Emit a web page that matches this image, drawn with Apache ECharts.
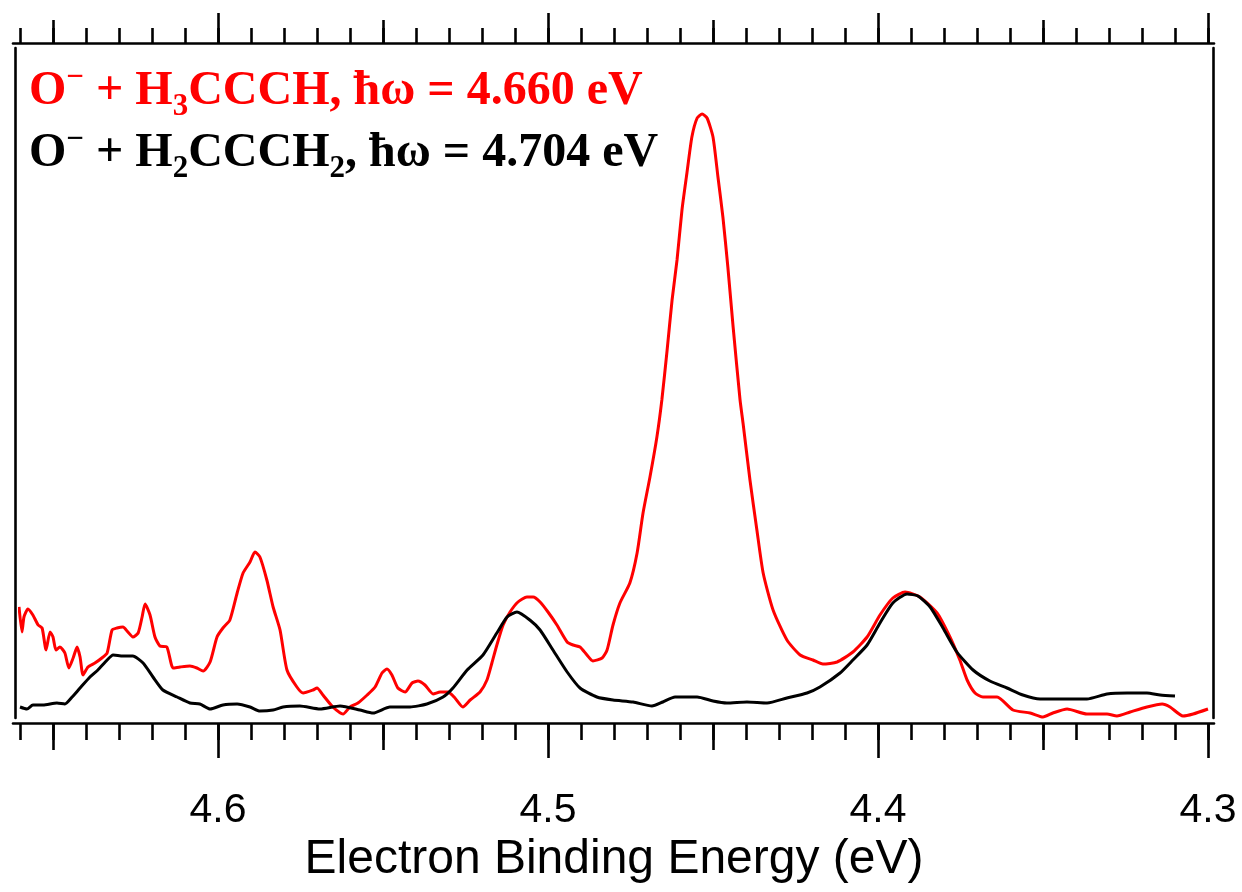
<!DOCTYPE html>
<html>
<head>
<meta charset="utf-8">
<script src="https://cdn.jsdelivr.net/npm/echarts@6/dist/echarts.min.js"></script>
<style>
html,body{margin:0;padding:0;background:#fff;}
#chart{width:1242px;height:892px;}
</style>
</head>
<body>
<div id="chart"></div>
<script>
// O- + H3CCCH, hw = 4.660 eV (red)
const redEnergy = [4.6603,4.6594,4.6588,4.6576,4.6561,4.6545,4.6533,4.6521,4.6509,4.6500,
4.6491,4.6479,4.6464,4.6452,4.6439,4.6427,4.6418,4.6409,4.6394,4.6373,
4.6352,4.6336,4.6321,4.6306,4.6288,4.6273,4.6258,4.6242,4.6230,4.6221,
4.6206,4.6191,4.6176,4.6155,4.6136,4.6115,4.6085,4.6064,4.6045,4.6024,
4.6003,4.5985,4.5964,4.5942,4.5924,4.5903,4.5888,4.5873,4.5852,4.5833,
4.5812,4.5791,4.5761,4.5742,4.5712,4.5700,4.5682,4.5652,4.5621,4.5600,
4.5576,4.5548,4.5524,4.5503,4.5488,4.5473,4.5455,4.5433,4.5412,4.5394,
4.5373,4.5348,4.5327,4.5303,4.5282,4.5258,4.5236,4.5206,4.5185,4.5170,
4.5155,4.5136,4.5115,4.5091,4.5064,4.5045,4.5024,4.5000,4.4973,4.4942,
4.4924,4.4903,4.4882,4.4864,4.4836,4.4821,4.4803,4.4782,4.4752,4.4730,
4.4712,4.4691,4.4670,4.4655,4.4639,4.4624,4.4609,4.4594,4.4579,4.4564,
4.4548,4.4533,4.4518,4.4500,4.4485,4.4470,4.4455,4.4439,4.4418,4.4409,
4.4388,4.4367,4.4348,4.4318,4.4276,4.4236,4.4197,4.4167,4.4124,4.4076,
4.4033,4.3994,4.3955,4.3918,4.3873,4.3821,4.3782,4.3752,4.3730,4.3706,
4.3682,4.3639,4.3591,4.3539,4.3500,4.3470,4.3427,4.3367,4.3306,4.3276,
4.3236,4.3185,4.3139,4.3115,4.3076,4.3045,4.3000];
const redIntensity = [116,91,106,114,108,98,95,73,91,86,
73,76,70,55,65,76,66,48,56,60,
65,70,93,95,96,91,86,90,106,119,
108,86,77,76,55,56,57,55,52,61,
86,95,103,130,150,161,171,166,143,116,
93,53,36,30,33,35,28,16,9,16,
20,28,36,50,54,48,35,31,40,42,
38,29,31,31,25,16,23,31,43,60,
78,98,111,121,126,126,121,111,98,81,
78,76,68,62,65,73,98,120,140,170,
210,246,286,323,373,423,463,513,550,586,
605,609,605,586,546,506,456,396,323,300,
243,193,150,113,83,68,63,59,61,71,
86,108,125,131,126,110,86,63,43,30,
26,26,13,10,6,10,14,9,9,7,
11,16,19,16,7,9,14];

// O- + H2CCCH2, hw = 4.704 eV (black)
const blackEnergy = [4.6600,4.6579,4.6561,4.6530,4.6488,4.6464,4.6442,4.6418,4.6388,4.6364,
4.6336,4.6318,4.6288,4.6258,4.6227,4.6197,4.6167,4.6124,4.6085,4.6055,
4.6024,4.5985,4.5942,4.5903,4.5873,4.5833,4.5803,4.5752,4.5691,4.5630,
4.5570,4.5530,4.5479,4.5418,4.5367,4.5318,4.5288,4.5245,4.5197,4.5155,
4.5124,4.5094,4.5055,4.5024,4.4985,4.4942,4.4903,4.4852,4.4803,4.4742,
4.4685,4.4652,4.4615,4.4548,4.4500,4.4458,4.4397,4.4336,4.4276,4.4215,
4.4176,4.4115,4.4076,4.4033,4.3994,4.3955,4.3912,4.3879,4.3842,4.3803,
4.3761,4.3712,4.3661,4.3609,4.3561,4.3509,4.3427,4.3367,4.3306,4.3245,
4.3185,4.3145,4.3100];
const blackIntensity = [16,14,18,18,20,19,26,35,46,53,
63,68,67,67,60,46,33,26,20,19,
14,18,19,16,12,13,16,17,14,17,
13,10,16,16,19,26,35,53,68,90,
106,111,103,93,73,51,35,26,23,21,
17,21,26,26,22,20,21,20,25,30,
36,50,63,78,100,120,129,127,116,95,
71,53,42,35,28,24,24,24,29,30,
30,28,27];

// axis ticks
const majorTicks = [4.3, 4.4, 4.5, 4.6];
const majorTickLabels = ['4.3', '4.4', '4.5', '4.6'];
const midTicks = [4.35, 4.45, 4.55, 4.65];
const minorTicks = [4.30,4.31,4.32,4.33,4.34,4.35,4.36,4.37,4.38,4.39,
4.40,4.41,4.42,4.43,4.44,4.45,4.46,4.47,4.48,4.49,
4.50,4.51,4.52,4.53,4.54,4.55,4.56,4.57,4.58,4.59,
4.60,4.61,4.62,4.63,4.64,4.65,4.66];

const xTitle = 'Electron Binding Energy (eV)';

const chart = echarts.init(document.getElementById('chart'), null, {renderer: 'canvas'});

const X_MIN = 4.3, X_MAX = 4.66;
const LW = 2.6;

function tickAxis(position, values, len, withLabel) {
  const ax = {
    type: 'value', gridIndex: 0, position: position,
    min: X_MIN, max: X_MAX, inverse: true,
    axisLine: {show: false},
    splitLine: {show: false},
    axisTick: {show: true, inside: false, length: len, customValues: values,
      lineStyle: {color: '#000', width: LW}},
    axisLabel: {show: false}
  };
  if (withLabel) {
    ax.axisLabel = {
      show: true, customValues: majorTicks,
      formatter: function (v) {
        for (let i = 0; i < majorTicks.length; i++) {
          if (Math.abs(v - majorTicks[i]) < 1e-6) return majorTickLabels[i];
        }
        return '';
      },
      color: '#000', fontSize: 41, fontFamily: 'Liberation Sans, Arial, sans-serif',
      margin: 67
    };
    ax.name = xTitle;
    ax.nameLocation = 'middle';
    ax.nameGap = 113;
    ax.nameTextStyle = {color: '#000', fontSize: 48, fontFamily: 'Liberation Sans, Arial, sans-serif'};
  }
  return ax;
}

const serifBold = {fontFamily: 'Liberation Serif, Times New Roman, serif', fontWeight: 'bold'};
function richFor(color) {
  return {
    a: Object.assign({fontSize: 48, color: color, lineHeight: 60}, serifBold),
    sub: Object.assign({fontSize: 31, color: color, lineHeight: 26, verticalAlign: 'bottom'}, serifBold),
    sup: Object.assign({fontSize: 31, color: color, lineHeight: 26, verticalAlign: 'top'}, serifBold)
  };
}

const option = {
  backgroundColor: '#fff',
  animation: false,
  title: [
    {text: '{a|O}{sup|\u2212}{a| + H}{sub|3}{a|CCCH, \u0127\u03c9 = 4.660 eV}', left: 29, top: 62,
     padding: 0, textStyle: {rich: richFor('#ff0000')}},
    {text: '{a|O}{sup|\u2212}{a| + H}{sub|2}{a|CCCH}{sub|2}{a|, \u0127\u03c9 = 4.704 eV}', left: 29, top: 124,
     padding: 0, textStyle: {rich: richFor('#000000')}}
  ],
  grid: [
    {left: 20, right: 34, top: 43, bottom: 169},   // data + ticks
    {left: 13, right: 28, top: 43, bottom: 169},   // horizontal frame lines
    {left: 15, right: 29, top: 48, bottom: 174}    // vertical frame lines
  ],
  xAxis: [
    tickAxis('bottom', majorTicks, 35, true),
    tickAxis('bottom', midTicks, 27, false),
    tickAxis('bottom', minorTicks, 17, false),
    tickAxis('top', majorTicks, 30, false),
    tickAxis('top', midTicks, 23, false),
    tickAxis('top', minorTicks, 15, false),
    {type: 'value', gridIndex: 1, position: 'bottom', min: 0, max: 1,
     axisLine: {show: true, lineStyle: {color: '#000', width: LW}}, axisTick: {show: false},
     axisLabel: {show: false}, splitLine: {show: false}},
    {type: 'value', gridIndex: 1, position: 'top', min: 0, max: 1,
     axisLine: {show: true, lineStyle: {color: '#000', width: LW}}, axisTick: {show: false},
     axisLabel: {show: false}, splitLine: {show: false}},
    {type: 'value', gridIndex: 2, show: false, min: 0, max: 1}
  ],
  yAxis: [
    {type: 'value', gridIndex: 0, min: 0, max: 680, show: false},
    {type: 'value', gridIndex: 1, min: 0, max: 1, show: false},
    {type: 'value', gridIndex: 2, position: 'left', min: 0, max: 1,
     axisLine: {show: true, onZero: false, lineStyle: {color: '#000', width: LW}}, axisTick: {show: false},
     axisLabel: {show: false}, splitLine: {show: false}},
    {type: 'value', gridIndex: 2, position: 'right', min: 0, max: 1,
     axisLine: {show: true, onZero: false, lineStyle: {color: '#000', width: LW}}, axisTick: {show: false},
     axisLabel: {show: false}, splitLine: {show: false}}
  ],
  series: [
    {type: 'line', name: 'O- + H3CCCH', xAxisIndex: 0, yAxisIndex: 0,
     data: redEnergy.map((e, i) => [e, redIntensity[i]]),
     showSymbol: false, symbol: 'none', smooth: 0.2,
     lineStyle: {color: '#ff0000', width: 3}, clip: true, z: 2},
    {type: 'line', name: 'O- + H2CCCH2', xAxisIndex: 0, yAxisIndex: 0,
     data: blackEnergy.map((e, i) => [e, blackIntensity[i]]),
     showSymbol: false, symbol: 'none', smooth: 0.2,
     lineStyle: {color: '#000000', width: 3}, clip: true, z: 3}
  ]
};
chart.setOption(option);
</script>
</body>
</html>
